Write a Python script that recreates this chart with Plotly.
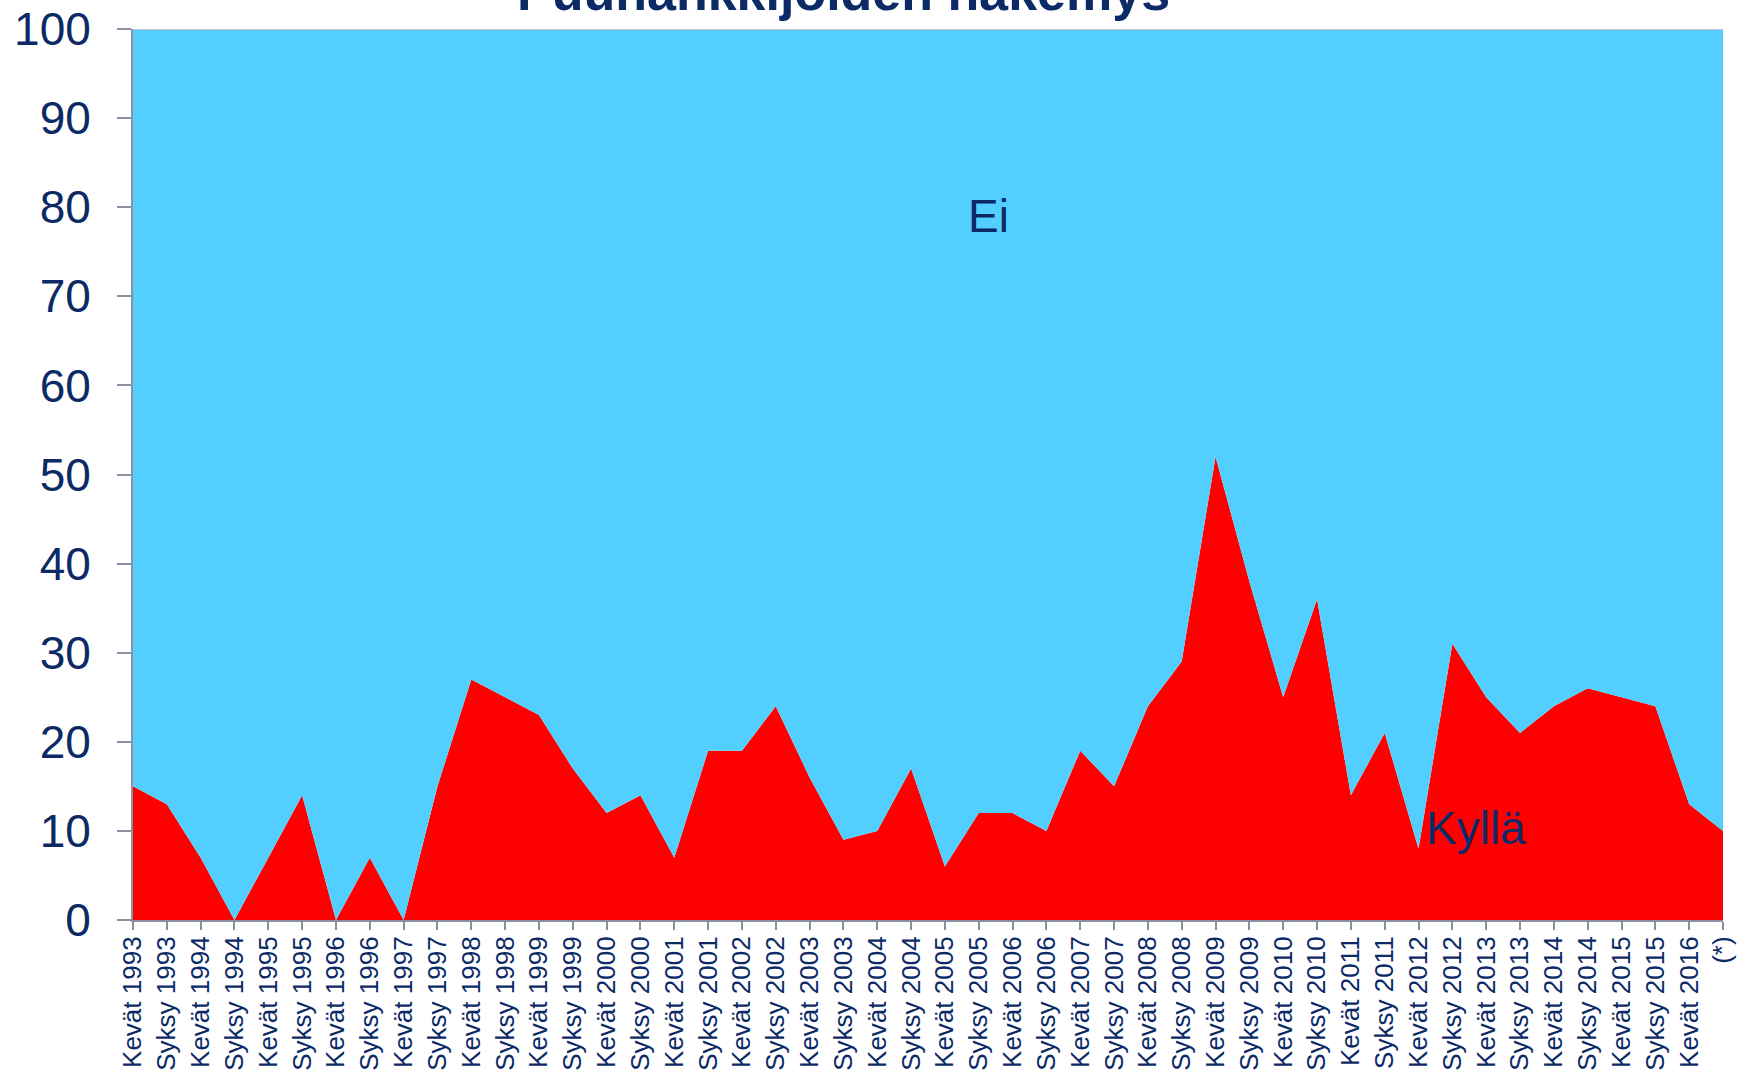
import plotly.graph_objects as go

# ── Data ─────────────────────────────────────────────────────────────────────
periods = []
for year in range(1993, 2017):
    periods.append(f"Kevät {year}")
    if year < 2016:
        periods.append(f"Syksy {year}")
periods.append("(*)")

kylla = [15, 13, 7, 0, 7, 14, 0, 7, 0, 15,
         27, 25, 23, 17, 12, 14, 7, 19, 19, 24,
         16, 9, 10, 17, 6, 12, 12, 10, 19, 15,
         24, 29, 52, 38, 25, 36, 14, 21, 8, 31,
         25, 21, 24, 26, 25, 24, 13, 10]
ei = [100 - v for v in kylla]

y_ticks = [0, 10, 20, 30, 40, 50, 60, 70, 80, 90, 100]

NAVY = "#0B2A66"
AXIS = "#8B8FA3"
FONT = "Liberation Sans, Arial, sans-serif"

fig = go.Figure()

# ── Stacked areas ────────────────────────────────────────────────────────────
fig.add_trace(go.Scatter(
    x=periods, y=kylla, name="Kyllä", mode="lines",
    stackgroup="one", line=dict(width=0, color="#FF0000"),
    fillcolor="#FF0000", hoverinfo="x+y"))
fig.add_trace(go.Scatter(
    x=periods, y=ei, name="Ei", mode="lines",
    stackgroup="one", line=dict(width=0, color="#53CFFF"),
    fillcolor="#53CFFF", hoverinfo="x+y"))

# top border line at 100
fig.add_shape(type="line", xref="paper", yref="y", x0=0, x1=1, y0=100, y1=100,
              line=dict(color="#C3C5CE", width=2), layer="above")

# ── Series labels ────────────────────────────────────────────────────────────
fig.add_annotation(x=25.3, y=79, text="Ei", showarrow=False,
                   font=dict(size=46, color=NAVY, family=FONT))
fig.add_annotation(x=39.7, y=10.3, text="Kyllä", showarrow=False,
                   font=dict(size=46, color=NAVY, family=FONT))

# ── Title (cut off at the top in the original) ───────────────────────────────
fig.add_annotation(xref="paper", yref="paper", x=0.447, y=1.0, yanchor="bottom",
                   yshift=6, text="<b>Puuhankkijoiden näkemys</b>", showarrow=False,
                   font=dict(size=52, color=NAVY, family=FONT))

# ── Layout ───────────────────────────────────────────────────────────────────
fig.update_layout(
    width=1738, height=1076,
    margin=dict(l=133, r=15, t=29, b=156),
    paper_bgcolor="white", plot_bgcolor="white",
    showlegend=False,
    xaxis=dict(
        type="category", range=[0, len(periods) - 1],
        showgrid=False, zeroline=False, automargin=False,
        showline=True, linecolor=AXIS, linewidth=2,
        ticks="outside", ticklen=8, tickwidth=2, tickcolor=AXIS,
        tickangle=-90, tickfont=dict(size=26, color=NAVY, family=FONT),
        ticklabelstandoff=-4,
    ),
    yaxis=dict(
        range=[0, 100], tickvals=y_ticks,
        showgrid=False, zeroline=False, automargin=False,
        showline=True, linecolor=AXIS, linewidth=2,
        ticks="outside", ticklen=14, tickwidth=2, tickcolor=AXIS,
        tickfont=dict(size=46, color=NAVY, family=FONT),
        ticklabelstandoff=17,
    ),
)

# drop the default page margin so the figure sits at the window's corner
fig.write_html("out.html", config={"displayModeBar": False},
               post_script="document.body.style.margin='0';")
